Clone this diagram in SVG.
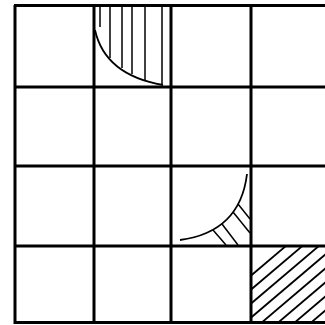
<svg xmlns="http://www.w3.org/2000/svg" width="325" height="325" viewBox="0 0 325 325">
<defs>
<style>
.g{stroke:#000;stroke-width:3;fill:none}
.h{stroke:#000;stroke-width:1.5;fill:none}
.a{stroke:#000;stroke-width:1.8;fill:none}
</style>
<radialGradient id="glow" cx="0.5" cy="0" r="0.5">
<stop offset="0" stop-color="#f9dc80"/>
<stop offset="0.6" stop-color="#fcecbc" stop-opacity="0.8"/>
<stop offset="1" stop-color="#fff8e4" stop-opacity="0"/>
</radialGradient>
<clipPath id="cell44"><rect x="252" y="247" width="73" height="75"/></clipPath>
</defs>
<rect width="325" height="325" fill="#fff"/>
<ellipse id="glow-top" cx="145" cy="0" rx="120" ry="10" fill="url(#glow)"/>
<g id="hatch-top">
<path class="a" d="M95,30 Q105,75 163,85"/>
<line class="h" x1="100" y1="5" x2="100" y2="27"/>
<line class="h" x1="110" y1="5" x2="110" y2="58"/>
<line class="h" x1="122" y1="5" x2="122" y2="68"/>
<line class="h" x1="132" y1="5" x2="132" y2="74"/>
<line class="h" x1="145" y1="5" x2="145" y2="80"/>
<line class="h" x1="162" y1="5" x2="162" y2="84"/>
</g>
<g id="hatch-mid">
<path class="a" d="M247,174 Q240,232 180,240"/>
<line class="h" x1="238" y1="204" x2="250" y2="219"/>
<line class="h" x1="233" y1="212" x2="250" y2="233"/>
<line class="h" x1="222" y1="224" x2="238" y2="245"/>
<line class="h" x1="213" y1="230" x2="226" y2="245"/>
</g>
<g id="hatch-corner" clip-path="url(#cell44)" stroke="#000" stroke-width="1.8">
<line x1="200" y1="319" x2="340" y2="200"/>
<line x1="200" y1="333" x2="340" y2="214"/>
<line x1="200" y1="347" x2="340" y2="228"/>
<line x1="200" y1="361" x2="340" y2="242"/>
<line x1="200" y1="375" x2="340" y2="256"/>
<line x1="200" y1="389" x2="340" y2="270"/>
<line x1="200" y1="403" x2="340" y2="284"/>
<line x1="200" y1="417" x2="340" y2="298"/>
<line x1="200" y1="431" x2="340" y2="312"/>
</g>
<g id="connectors">
<line class="g" x1="15" y1="5" x2="15" y2="324"/>
<line class="g" x1="94" y1="5" x2="94" y2="324"/>
<line class="g" x1="171" y1="5" x2="171" y2="324"/>
<line class="g" x1="251" y1="5" x2="251" y2="324"/>
<line class="g" x1="14" y1="5.5" x2="325" y2="5.5" stroke-width="2"/>
<line class="g" x1="14" y1="87" x2="325" y2="87"/>
<line class="g" x1="14" y1="166" x2="325" y2="166"/>
<line class="g" x1="14" y1="246" x2="325" y2="246" stroke-width="4"/>
<line class="g" x1="14" y1="322.5" x2="325" y2="322.5"/>
</g>
</svg>
